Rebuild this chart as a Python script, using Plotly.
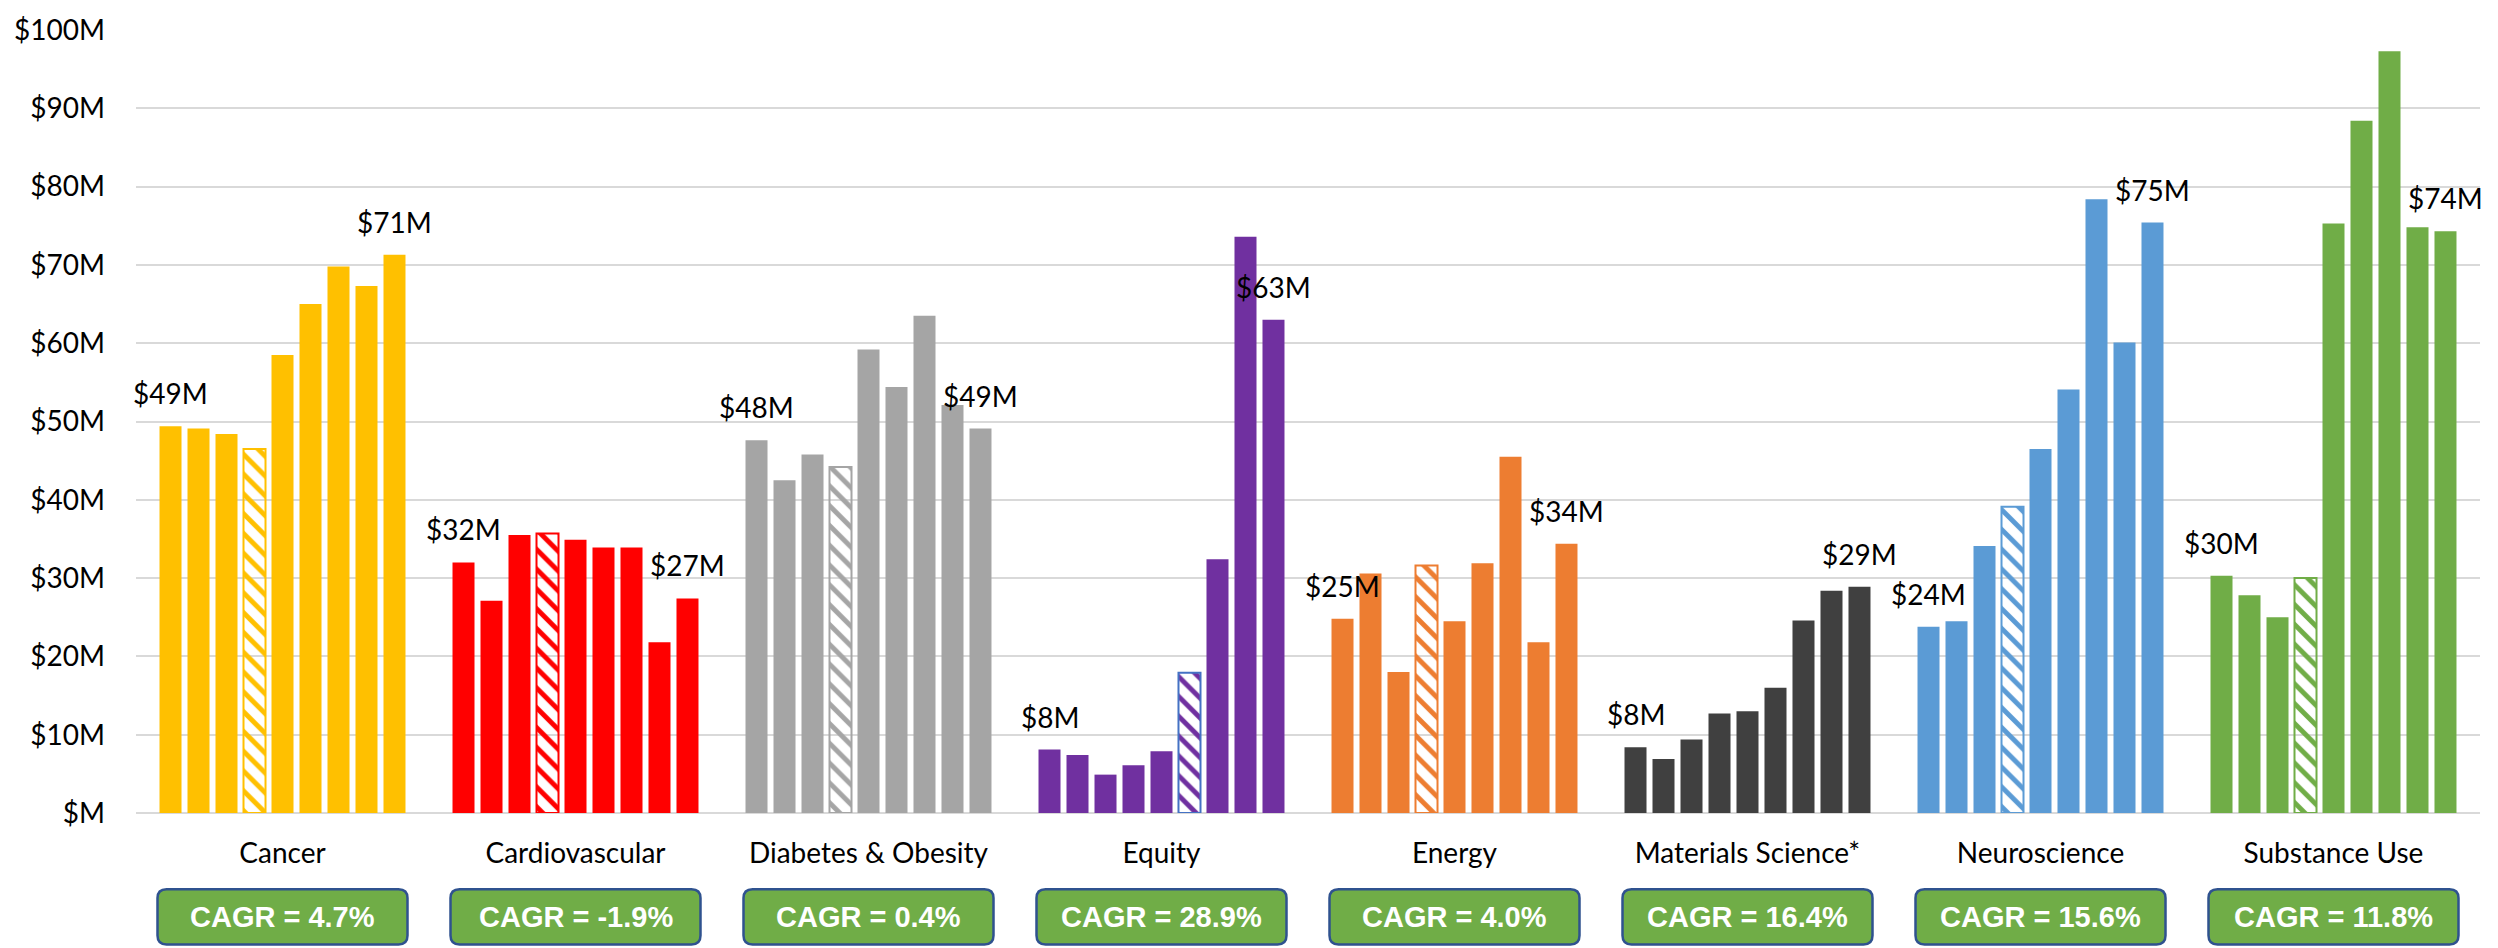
import plotly.graph_objects as go

# Research funding by focus area, nine periods per area ($M)
categories = ["Cancer", "Cardiovascular", "Diabetes & Obesity", "Equity", "Energy",
              "Materials Science*", "Neuroscience", "Substance Use"]

cancer = [49.4, 49.1, 48.4, 46.5, 58.5, 65.0, 69.8, 67.3, 71.3]
cardiovascular = [32.0, 27.1, 35.5, 35.7, 34.9, 33.9, 33.9, 21.8, 27.4]
diabetes_obesity = [47.6, 42.5, 45.8, 44.2, 59.2, 54.4, 63.5, 52.1, 49.1]
equity = [8.1, 7.4, 4.9, 6.1, 7.9, 17.9, 32.4, 73.6, 63.0]
energy = [24.8, 30.6, 18.0, 31.6, 24.5, 31.9, 45.5, 21.8, 34.4]
materials_science = [8.4, 6.9, 9.4, 12.7, 13.0, 16.0, 24.6, 28.4, 28.9]
neuroscience = [23.8, 24.5, 34.1, 39.1, 46.5, 54.1, 78.4, 60.1, 75.4]
substance_use = [30.3, 27.8, 25.0, 30.0, 75.3, 88.4, 97.3, 74.8, 74.3]

# index of the hatched (partial) period in each area, None when absent
hatched_period = [3, 3, 3, 5, 3, None, 3, 3]

cagr = ["4.7%", "-1.9%", "0.4%", "28.9%", "4.0%", "16.4%", "15.6%", "11.8%"]

y_ticks = [0, 10, 20, 30, 40, 50, 60, 70, 80, 90, 100]
y_tick_labels = ["$M" if v == 0 else f"${v}M" for v in y_ticks]

series = [cancer, cardiovascular, diabetes_obesity, equity, energy,
          materials_science, neuroscience, substance_use]

colors = ["#FFC000", "#FF0000", "#A5A5A5", "#7030A0", "#ED7D31",
          "#404040", "#5B9BD5", "#70AD47"]
hatch_edge = ["#FFC000", "#FF0000", "#A5A5A5", "#4472C4", "#ED7D31",
              "#404040", "#5B9BD5", "#70AD47"]

W, H = 2498, 948
M_L, M_R, M_T, M_B = 136, 18, 21, 135
PLOT_W = W - M_L - M_R
PLOT_H = H - M_T - M_B

BARGAP = 0.14
BARGROUPGAP = 0.214
N_PERIODS = len(cancer)

TEXT_FONT = dict(family="Lato, 'Open Sans', sans-serif", size=28, color="#000000")

fig = go.Figure()

for j in range(N_PERIODS):
    yvals = [s[j] for s in series]
    is_hatched = [h == j for h in hatched_period]
    fig.add_trace(go.Bar(
        x=categories,
        y=yvals,
        name=f"Period {j + 1}",
        showlegend=False,
        marker=dict(
            color=colors,
            line=dict(
                color=[hatch_edge[i] if is_hatched[i] else colors[i] for i in range(len(categories))],
                width=[2 if h else 0 for h in is_hatched],
            ),
            pattern=dict(
                shape=["\\" if h else "" for h in is_hatched],
                fgcolor=colors,
                bgcolor=["#FFFFFF" if is_hatched[i] else colors[i] for i in range(len(categories))],
                size=14,
                solidity=0.35,
                fillmode="replace",
            ),
        ),
    ))

# value labels on the first and last period of each area
slot = (1 - BARGAP) / N_PERIODS
annotations = []
for i, s in enumerate(series):
    for j in (0, N_PERIODS - 1):
        annotations.append(dict(
            x=i + (j - (N_PERIODS - 1) / 2) * slot,
            y=s[j],
            xref="x", yref="y",
            text=f"${s[j]:.0f}M",
            showarrow=False,
            yanchor="bottom",
            yshift=14,
            font=TEXT_FONT,
        ))

# CAGR badges under each area
shapes = []
box_half_w = 125 / PLOT_W
box_y0 = -(946 - (M_T + PLOT_H)) / PLOT_H
box_y1 = -(890 - (M_T + PLOT_H)) / PLOT_H
rx = 9 / PLOT_W
ry = 9 / PLOT_H
n_cat = len(categories)
for i, rate in enumerate(cagr):
    cx = (i + 0.5) / n_cat
    x0, x1 = cx - box_half_w, cx + box_half_w
    path = (
        f"M {x0 + rx},{box_y1} L {x1 - rx},{box_y1} Q {x1},{box_y1} {x1},{box_y1 - ry} "
        f"L {x1},{box_y0 + ry} Q {x1},{box_y0} {x1 - rx},{box_y0} "
        f"L {x0 + rx},{box_y0} Q {x0},{box_y0} {x0},{box_y0 + ry} "
        f"L {x0},{box_y1 - ry} Q {x0},{box_y1} {x0 + rx},{box_y1} Z"
    )
    shapes.append(dict(
        type="path", xref="paper", yref="paper", path=path,
        fillcolor="#70AD47", line=dict(color="#2F528F", width=2.5),
        layer="above",
    ))
    annotations.append(dict(
        x=cx, y=(box_y0 + box_y1) / 2, xref="paper", yref="paper",
        text=f"<b>CAGR = {rate}</b>",
        showarrow=False,
        xanchor="center", yanchor="middle",
        font=dict(family="'Liberation Sans', Arial, sans-serif", size=29, color="#FFFFFF"),
    ))

fig.update_layout(
    width=W, height=H,
    margin=dict(l=M_L, r=M_R, t=M_T, b=M_B, pad=0),
    paper_bgcolor="#FFFFFF",
    plot_bgcolor="#FFFFFF",
    barmode="group",
    bargap=BARGAP,
    bargroupgap=BARGROUPGAP,
    font=TEXT_FONT,
    shapes=shapes,
    annotations=annotations,
    xaxis=dict(
        type="category",
        range=[-0.5, n_cat - 0.5],
        showgrid=False,
        showline=False,
        zeroline=False,
        ticks="",
        tickfont=TEXT_FONT,
        ticklabelstandoff=21,
    ),
    yaxis=dict(
        range=[0, 100],
        tickvals=y_ticks,
        ticktext=y_tick_labels,
        showgrid=True,
        gridcolor="#D9D9D9",
        gridwidth=2,
        zeroline=True,
        zerolinecolor="#D9D9D9",
        zerolinewidth=2,
        showline=False,
        ticks="",
        tickfont=TEXT_FONT,
        ticklabelstandoff=30,
    ),
)

fig.write_html("out.html")
